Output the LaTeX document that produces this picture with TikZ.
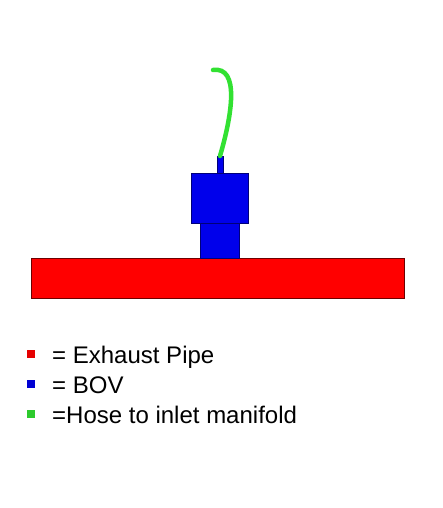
\documentclass[tikz,border=0pt]{standalone}
\usepackage{fontspec}
\setmainfont{Liberation Sans}
\usetikzlibrary{positioning}
\definecolor{pipered}{RGB}{255,0,0}
\definecolor{pipeedge}{RGB}{110,0,0}
\definecolor{bovblue}{RGB}{0,0,235}
\definecolor{bovedge}{RGB}{0,0,120}
\definecolor{hosegreen}{RGB}{50,225,50}
\begin{document}
\begin{tikzpicture}[x=1pt,y=-1pt,
    part/.style={draw,line width=1pt,inner sep=0pt,outer sep=0pt},
    key/.style={inner sep=0pt,minimum size=8pt},
    keytext/.style={anchor=base west,inner sep=0pt,font=\fontsize{24}{28}\selectfont}]
  \useasboundingbox[fill=white] (0,0) rectangle (443,508);
  % exhaust pipe and valve
  \node[part,fill=pipered,draw=pipeedge,minimum width=373pt,minimum height=40pt]
    (pipe) at (217.5,278) {};
  \node[part,fill=bovblue,draw=bovedge,minimum width=39pt,minimum height=35pt,
    above=0pt of pipe.north,xshift=2.5pt] (bovlow) {};
  \node[part,fill=bovblue,draw=bovedge,minimum width=57pt,minimum height=50pt,
    above=0pt of bovlow] (bovtop) {};
  \node[part,fill=bovblue,draw=bovedge,minimum width=6pt,minimum height=17pt,
    above=0pt of bovtop] (stem) {};
  \coordinate (hoseend) at (213,70);
  \draw[hosegreen,line width=4.5pt,line cap=round]
    (stem.north) .. controls (232,115) and (240,66) .. (hoseend);
  % legend
  \foreach \col/\yy/\txt in {pipered/363/{= Exhaust Pipe},
      bovblue/393/{= BOV},hosegreen/423/{=Hose to inlet manifold}}{%
    \node[keytext] (key-\col) at (52,\yy) {\txt};
    \node[key,fill=\col!90!black] (sq-\col) at (31,\yy-9) {};
  }
\end{tikzpicture}
\end{document}
